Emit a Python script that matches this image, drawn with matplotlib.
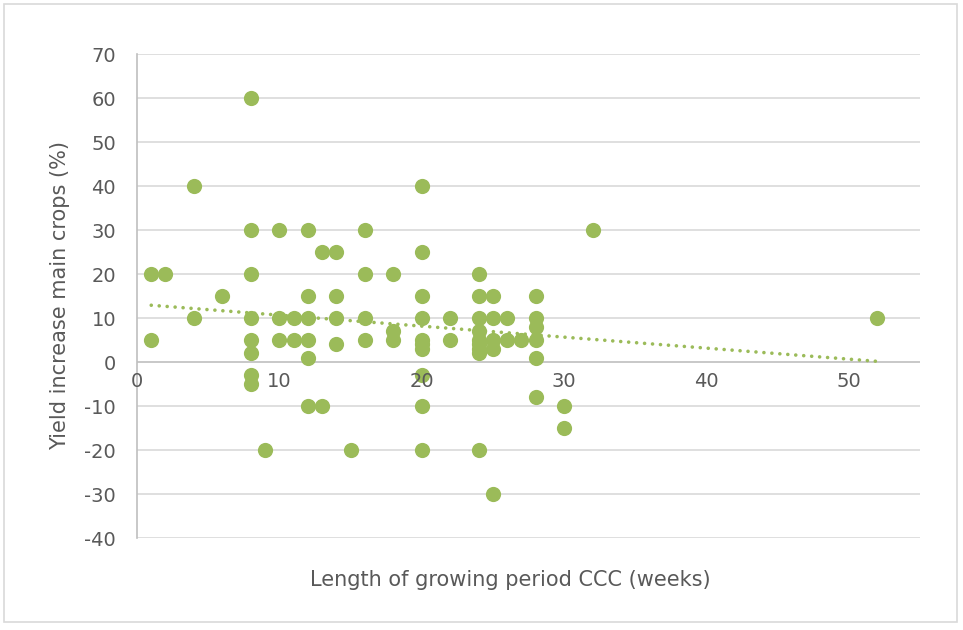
import numpy as np
import matplotlib
matplotlib.use("Agg")
import matplotlib.pyplot as plt
from matplotlib.patches import Rectangle

weeks = [1, 2, 1,
         4, 4,
         6,
         8, 8, 8, 8, 8, 8, 8, 8,
         9,
         10, 10, 10,
         11, 11,
         12, 12, 12, 12, 12, 12,
         13, 13,
         14, 14, 14, 14,
         15,
         16, 16, 16, 16,
         18, 18, 18,
         20, 20, 20, 20, 20, 20, 20, 20, 20, 20,
         22, 22,
         24, 24, 24, 24, 24, 24, 24, 24, 24,
         25, 25, 25, 25, 25,
         26, 26,
         27,
         28, 28, 28, 28, 28, 28,
         30, 30,
         32,
         52]
yield_pct = [20, 20, 5,
             40, 10,
             15,
             60, 30, 20, 10, 5, 2, -3, -5,
             -20,
             30, 10, 5,
             10, 5,
             30, 15, 10, 5, 1, -10,
             25, -10,
             25, 15, 10, 4,
             -20,
             30, 20, 10, 5,
             20, 7, 5,
             40, 25, 15, 10, 5, 4, 3, -3, -10, -20,
             10, 5,
             20, 15, 10, 7, 5, 4, 3, 2, -20,
             15, 10, 5, 3, -30,
             10, 5,
             5,
             15, 10, 8, 5, 1, -8,
             -10, -15,
             30,
             10]

# linear trendline (end points)
trend_x = [1, 52]
trend_y = [12.9, 0.15]

x_ticks = [0, 10, 20, 30, 40, 50]
y_ticks = [-40, -30, -20, -10, 0, 10, 20, 30, 40, 50, 60, 70]

green = "#9BBB59"
txt = "#595959"
plt.rcParams['font.family'] = ['DejaVu Sans']
plt.rcParams['axes.unicode_minus'] = False

fig = plt.figure(figsize=(9.63, 6.30), dpi=100)
fig.patches.append(Rectangle((0.004, 0.012), 0.99, 0.982, transform=fig.transFigure,
                             fill=False, edgecolor="#D9D9D9", linewidth=1.2))
ax = fig.add_axes([137/963, 1-538/630, (920-137)/963, (538-54)/630])

ax.set_xlim(0, 55)
ax.set_ylim(-40, 70)
for yv in y_ticks:
    if yv != 0:
        ax.axhline(yv, color="#D9D9D9", linewidth=1.2, zorder=0)

ax.scatter(weeks, yield_pct, s=120, color=green, zorder=3, linewidths=0)

ax.plot(trend_x, trend_y, color=green, linewidth=2.6,
        linestyle=(0, (0.01, 2.2)), dash_capstyle="round", zorder=2)

for s in ["top", "right", "bottom"]:
    ax.spines[s].set_visible(False)
ax.spines["left"].set_color("#BFBFBF")
ax.spines["left"].set_linewidth(1.2)
ax.axhline(0, color="#BFBFBF", linewidth=1.2, zorder=1)

ax.set_yticks(y_ticks)
ax.tick_params(axis="y", length=0, pad=15, labelsize=14, labelcolor=txt)
ax.set_xticks([])
for xv in x_ticks:
    ax.text(xv, -2.3, str(xv), ha="center", va="top", fontsize=14, color=txt)

fig.text(510/963, 1-580/630, "Length of growing period CCC (weeks)", ha="center",
         va="center", fontsize=15, color=txt)
fig.text(60/963, 1-296/630, "Yield increase main crops (%)", ha="center",
         va="center", rotation=90, fontsize=15, color=txt)

fig.savefig("out.png", dpi=100)
